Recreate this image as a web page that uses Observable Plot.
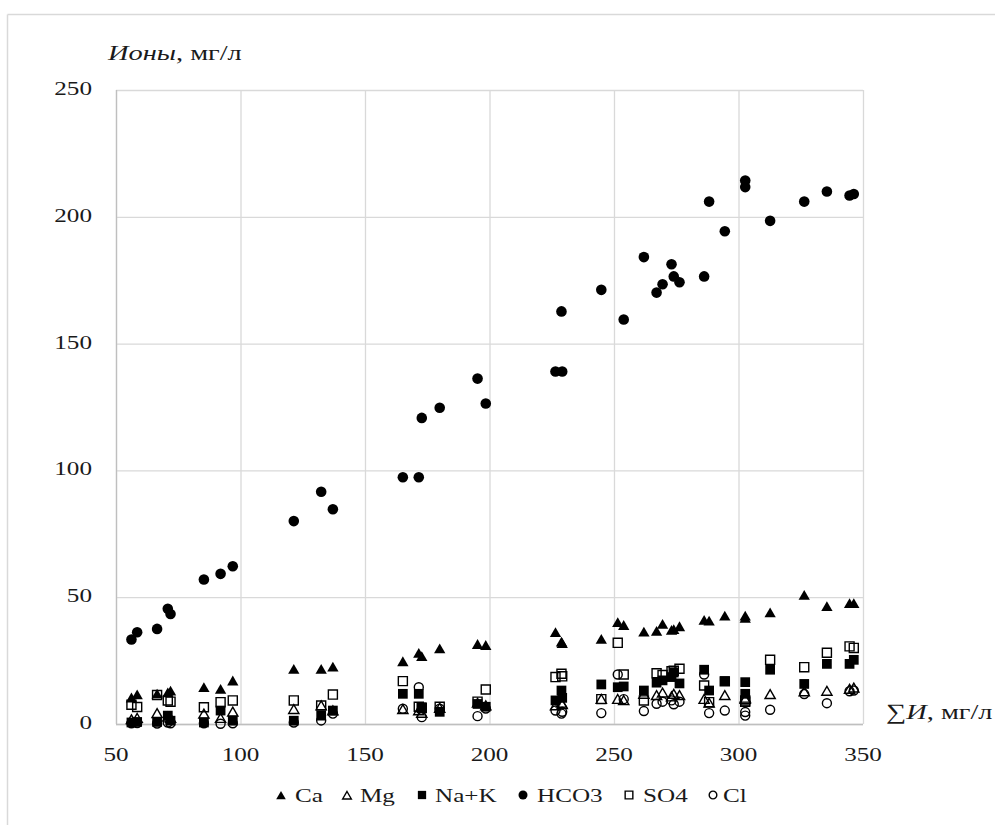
<!DOCTYPE html>
<html>
<head>
<meta charset="utf-8">
<script src="https://cdn.jsdelivr.net/npm/d3@7"></script>
<script src="https://cdn.jsdelivr.net/npm/@observablehq/plot@0.6"></script>
<style>
html, body { margin: 0; padding: 0; background: #fff; overflow: hidden; }
#wrap { position: relative; width: 995px; height: 825px; overflow: hidden; }
#wrap svg { position: absolute; left: 0; top: 0; }
</style>
</head>
<body>
<div id="wrap"></div>
<script>
// ---- data ----
const sumIons = [56.0, 58.3, 66.3, 70.6, 71.7, 85.1, 91.8, 96.7, 121.2, 132.2, 136.9, 165.0, 171.4, 172.6, 179.8, 195.0, 198.3, 226.3, 228.7, 229.0, 244.7, 251.3, 253.7, 261.8, 266.9, 269.3, 272.9, 273.8, 276.1, 286.0, 288.0, 294.3, 302.5, 302.5, 312.5, 326.2, 335.3, 344.4, 346.1];
const ca   = [10.0, 11.2, 11.5, 12.0, 12.7, 14.1, 13.4, 16.7, 21.3, 21.3, 22.2, 24.3, 27.6, 26.3, 29.4, 31.1, 30.7, 35.8, 32.0, 31.5, 33.1, 39.7, 38.6, 36.0, 36.3, 39.0, 36.7, 37.0, 38.1, 40.6, 40.3, 42.3, 42.3, 41.4, 43.6, 50.5, 46.0, 47.2, 47.2];
const mg   = [1.5, 2.0, 3.9, 2.5, 2.0, 3.7, 2.0, 4.5, 5.5, 7.0, 5.0, 5.5, 5.0, 4.0, 6.0, 8.0, 7.0, 7.0, 8.0, 7.5, 9.5, 9.5, 9.0, 11.5, 11.0, 12.0, 10.5, 11.5, 11.0, 9.5, 8.0, 11.0, 10.0, 9.5, 11.4, 12.5, 12.7, 13.5, 14.0];
const naK  = [0.8, 1.0, 1.0, 3.5, 1.5, 0.8, 5.5, 1.5, 1.5, 3.5, 5.5, 12.1, 12.1, 6.8, 5.0, 8.1, 7.0, 9.5, 13.4, 10.5, 15.8, 14.7, 15.0, 13.4, 16.5, 17.4, 18.7, 20.5, 16.2, 21.6, 13.4, 17.1, 16.7, 12.1, 21.6, 16.0, 23.9, 23.9, 25.5];
const hco3 = [33.5, 36.4, 37.7, 45.6, 43.6, 57.2, 59.4, 62.4, 80.2, 91.8, 84.9, 97.5, 97.5, 120.9, 124.9, 136.4, 126.6, 139.2, 162.9, 139.2, 171.4, null, 159.7, 184.3, 170.3, 173.6, 181.5, 176.7, 174.4, 176.7, 206.2, 194.5, 214.5, 211.9, 198.6, 206.2, 210.2, 208.6, 209.2];
const so4  = [7.8, 6.9, 11.6, 9.5, 9.0, 6.8, 8.8, 9.5, 9.5, 7.5, 11.8, 17.1, 7.0, 6.5, 7.0, 9.0, 13.8, 18.7, 20.0, 19.0, 10.0, 32.2, 19.7, 9.5, 20.2, 19.5, 21.0, 21.2, 22.0, 15.4, 8.8, 17.0, 9.5, 9.0, 25.5, 22.6, 28.3, 30.8, 30.2];
const cl   = [0.5, 0.6, 0.4, 0.8, 0.5, 0.5, 0.3, 0.5, 0.8, 1.6, 4.3, 6.2, 14.7, 2.9, 6.2, 3.3, 6.3, 5.5, 4.3, 5.0, 4.5, 19.7, 10.0, 5.3, 8.2, 9.0, 9.5, 8.0, 9.0, 19.7, 4.5, 5.5, 4.9, 3.5, 5.8, 12.0, 8.4, 13.1, 13.4];
const seriesNames = ["Ca", "Mg", "Na+K", "HCO3", "SO4", "Cl"];
const xTicks = [50, 100, 150, 200, 250, 300, 350];
const yTicks = [0, 50, 100, 150, 200, 250];
const yTitle = ["Ионы", ", мг/л"];
const xTitle = ["∑", "И", ", мг/л"];

// ---- styles per series ----
const seriesValues = [ca, mg, naK, hco3, so4, cl];
const styles = [
  {symbol: "triangle", filled: true,  r: 4.2},
  {symbol: "triangle", filled: false, r: 3.8},
  {symbol: "square",   filled: true,  r: 5.5},
  {symbol: "circle",   filled: true,  r: 5.3},
  {symbol: "square",   filled: false, r: 5.1},
  {symbol: "circle",   filled: false, r: 4.5}
];

const rows = vals => sumIons.map((x, i) => ({x, y: vals[i]})).filter(d => d.y != null);

const W = 995, H = 825;
const FONT = "'Liberation Serif', 'Times New Roman', serif";
const K = 1.29; // horizontal stretch of the text in the reference

const chart = Plot.plot({
  width: W, height: H,
  marginLeft: 116, marginRight: 132, marginTop: 90, marginBottom: 101,
  style: {fontFamily: FONT, fontSize: "19.5px", color: "#1a1a1a", background: "white", overflow: "visible"},
  x: {type: "linear", domain: [50, 350], ticks: xTicks, tickSize: 0, tickPadding: 24, label: null, tickFormat: d => String(d)},
  y: {type: "linear", domain: [0, 250], ticks: yTicks, tickSize: 0, tickPadding: 24, label: null, tickFormat: d => String(d)},
  marks: [
    Plot.ruleX(xTicks, {stroke: "#d9d9d9", strokeWidth: 1.3}),
    Plot.ruleY(yTicks, {stroke: "#d9d9d9", strokeWidth: 1.3}),
    Plot.ruleX([xTicks[0]], {stroke: "#bfbfbf", strokeWidth: 1.3}),
    Plot.ruleY([yTicks[0]], {stroke: "#bfbfbf", strokeWidth: 1.3}),
    ...seriesValues.map((vals, k) => {
      const s = styles[k];
      return Plot.dot(rows(vals), {
        x: "x", y: "y", symbol: s.symbol, r: s.r,
        fill: s.filled ? "#000" : "none",
        stroke: s.filled ? "none" : "#000",
        strokeWidth: 1.4
      });
    })
  ]
});

document.getElementById("wrap").appendChild(chart);
const svg = d3.select(chart);
const xs = chart.scale("x"), ys = chart.scale("y");

// chart-area frame (light grey border, top and left visible)
svg.append("line").attr("x1", 7.5).attr("x2", W).attr("y1", 14.5).attr("y2", 14.5).attr("stroke", "#d9d9d9").attr("stroke-width", 1.5);
svg.append("line").attr("x1", 7.5).attr("x2", 7.5).attr("y1", 14.5).attr("y2", H).attr("stroke", "#d9d9d9").attr("stroke-width", 1.5);

// axis titles
function title(x, y, parts, italicIdx, size) {
  const t = svg.append("text").attr("x", x).attr("y", y).attr("text-anchor", "start")
    .attr("font-family", FONT).attr("font-size", size).attr("fill", "#1a1a1a");
  parts.forEach((p, i) => t.append("tspan").text(p).attr("font-style", italicIdx.includes(i) ? "italic" : "normal"));
  return t;
}
title(108, 60, yTitle, [0], 22);
title(886, 719, xTitle, [1], 22);

// legend
const legendSym = [281, 347, 422, 523, 629, 713];
const legendTxt = [295, 360, 435, 537, 643, 723];
const legendY = 795;
seriesNames.forEach((name, k) => {
  const s = styles[k];
  const sym = s.symbol === "triangle" ? d3.symbolTriangle : s.symbol === "square" ? d3.symbolSquare : d3.symbolCircle;
  const rr = s.r * 0.85;
  svg.append("path")
    .attr("d", d3.symbol(sym, Math.PI * rr * rr)())
    .attr("transform", `translate(${legendSym[k]},${legendY + (s.symbol === "triangle" ? 1.5 : 0)})`)
    .attr("fill", s.filled ? "#000" : "none")
    .attr("stroke", s.filled ? "none" : "#000")
    .attr("stroke-width", 1.4);
  svg.append("text").attr("class", "legend-label").attr("x", legendTxt[k]).attr("y", legendY).attr("dy", "0.34em").attr("text-anchor", "start")
    .attr("font-family", FONT).attr("font-size", 19.5).attr("fill", "#1a1a1a").text(name);
});

// stretch every text horizontally around its anchor point
chart.querySelectorAll("text").forEach(t => {
  const fs = parseFloat(getComputedStyle(t).fontSize) || 19.5;
  const x = parseFloat(t.getAttribute("x")) || 0;
  const y = parseFloat(t.getAttribute("y")) || 0;
  let dxv = 0;
  const dx = t.getAttribute("dx");
  if (dx) { dxv = dx.trim().endsWith("em") ? parseFloat(dx) * fs : parseFloat(dx); t.removeAttribute("dx"); }
  const tr = t.getAttribute("transform") || "";
  t.setAttribute("transform", `${tr} translate(${x + dxv},${y}) scale(${K},1)`);
  t.removeAttribute("x"); t.removeAttribute("y");
});

// fine placement of tick labels (measured on screen)
const nudge = (t, dx, dy) => t.setAttribute("transform", t.getAttribute("transform") + ` translate(${dx / K},${dy})`);
chart.querySelectorAll('g[aria-label^="x-axis"] text').forEach(t => {
  const v = +t.textContent, b = t.getBoundingClientRect();
  nudge(t, xs.apply(v) - (b.left + b.width / 2), 755 - (b.top + b.height / 2));
});
chart.querySelectorAll('g[aria-label^="y-axis"] text').forEach(t => {
  const v = +t.textContent, b = t.getBoundingClientRect();
  nudge(t, 92 - b.right, ys.apply(v) - 1.5 - (b.top + b.height / 2));
});
</script>
</body>
</html>
